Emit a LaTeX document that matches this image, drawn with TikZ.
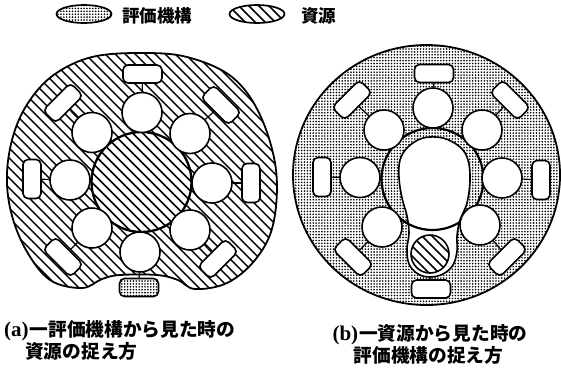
\documentclass[tikz,border=0pt]{standalone}
\usepackage{fontspec}
\setmainfont{Liberation Serif}
\newfontfamily\jpfont{Noto Sans CJK JP}
\usetikzlibrary{patterns.meta,shapes.geometric}
\newcommand{\jpc}{\jpfont\bfseries\fontsize{18.7}{20}\selectfont}
\newcommand{\latc}{\rmfamily\bfseries\fontsize{21}{20}\selectfont}
\tikzset{
  hatchfill/.style={path picture={
    \foreach \k in {-330,-320,...,330}
      \draw[line width=1.45pt] ([shift={(\k pt-330pt,330pt)}]path picture bounding box.center) -- ++(660pt,-660pt);
  }},
  dotfill/.style={pattern={Dots[distance=2.9pt,radius=0.9pt]}},
  outline/.style={draw, line width=1.8pt},
  small/.style={circle, draw, line width=1.6pt, fill=white, minimum size=40pt, inner sep=0pt},
  boxbase/.style={rectangle, rounded corners=5pt, draw, line width=1.6pt, minimum width=39pt, minimum height=18pt, inner sep=0pt},
  box/.style={boxbase, fill=white},
  link/.style={line width=1.2pt},
  legend/.style={ellipse, draw, line width=1.7pt, minimum width=55pt, minimum height=18pt, inner sep=0pt},
  txt/.style={inner sep=0pt}
}
\begin{document}
\begin{tikzpicture}[x=1pt,y=-1pt]
\useasboundingbox (0,0) rectangle (561,368);

% ---------- legend ----------
\node[legend, fill=white, dotfill] (legdot) at (84,14) {};
\node[txt, anchor=west] (legdottxt) at (122,16) {\jpfont\bfseries\fontsize{17.5}{18}\selectfont 評価機構};
\node[legend, fill=white, hatchfill] (leghatch) at (257,14) {};
\node[txt, anchor=west] (leghatchtxt) at (301,16) {\jpfont\bfseries\fontsize{17.5}{18}\selectfont 資源};

% ---------- (a) ----------
\path[fill=white, hatchfill, outline] plot[smooth cycle, tension=0.6] coordinates {
 (140,53) (187,57) (232,77) (260,115) (276,170) (273,225) (255,260) (227,283)
 (195,289) (178,280) (157,275) (120,275) (102,279) (82,288) (50,280) (26,250)
 (11,212) (7,173) (14,133) (30,100) (55,74) (92,57)};

\node[circle, draw, line width=2.3pt, minimum size=100pt, inner sep=0pt, fill=white, hatchfill] (ca) at (141.5,182) {};

\node[small] (aT)  at (142,112.5) {};
\node[small] (aUL) at (92,132.5) {};
\node[small] (aUR) at (190,133.5) {};
\node[small] (aL)  at (70,180) {};
\node[small] (aR)  at (212,183) {};
\node[small] (aLL) at (92,228) {};
\node[small] (aLR) at (190,230) {};
\node[small] (aB)  at (140,252) {};

\node[box] (raT)  at (142.5,74) {};
\node[box, rotate=45]  (raUL) at (63,103) {};
\node[box, rotate=-45] (raUR) at (221,105) {};
\node[box, rotate=90]  (raL)  at (32,179) {};
\node[box, rotate=90]  (raR)  at (251,183) {};
\node[box, rotate=-45] (raLL) at (63,257) {};
\node[box, rotate=45]  (raLR) at (218,259) {};
\node[boxbase, fill=white, dotfill] (raB) at (139,287.5) {};

\foreach \c in {T,UL,UR,L,R,LL,LR,B}
  \draw[link] (a\c) -- (ra\c);

% ---------- (b) ----------
\path[fill=white, dotfill, outline] (426.5,175) ellipse [x radius=133.5pt, y radius=130pt];

\path[fill=white, draw, line width=1.6pt] plot[smooth cycle, tension=0.6] coordinates {
 (400,160) (408,147) (423,138) (443,138) (460,147) (468,160) (470,180) (467,203)
 (460,220) (457,236) (457,251) (453,265) (443,274) (430,277) (418,274) (409,264)
 (407,249) (409,233) (407,216) (402,198) (399,178)};

\node[circle, draw, line width=2.2pt, minimum size=102pt, inner sep=0pt] (cb) at (432.5,179) {};

\node[circle, draw, line width=1.6pt, minimum size=38pt, inner sep=0pt, fill=white, hatchfill] (bB) at (430,254) {};

\node[small] (bT)  at (433,108) {};
\node[small] (bUL) at (384,130) {};
\node[small] (bUR) at (482,130) {};
\node[small] (bL)  at (360,177.5) {};
\node[small] (bR)  at (502,178) {};
\node[small] (bLL) at (382,227) {};
\node[small] (bLR) at (480,225) {};

\node[box] (rbT)  at (434,73.5) {};
\node[box, rotate=45]  (rbUL) at (352,100) {};
\node[box, rotate=-45] (rbUR) at (510,100) {};
\node[box, rotate=90]  (rbL)  at (322,177) {};
\node[box, rotate=90]  (rbR)  at (541,180) {};
\node[box, rotate=-45] (rbLL) at (353,257) {};
\node[box, rotate=45]  (rbLR) at (507,257) {};
\node[box] (rbB) at (431,289) {};

\foreach \c in {T,UL,UR,L,R,LL,LR}
  \draw[link] (b\c) -- (rb\c);
\coordinate (bandbot) at (430,277);
\draw[link] (bandbot) -- (rbB);

% ---------- captions ----------
\node[txt, anchor=west] (capa1) at (4,331) {{\latc (a)}\hspace{1pt}{\jpc 一評価機構から見た時の}};
\node[txt, anchor=west] (capa2) at (25,351) {\jpc 資源の捉え方};
\node[txt] (capb1) at (430,335) {{\latc (b)}\hspace{1pt}{\jpc 一資源から見た時の}};
\node[txt] (capb2) at (428.5,355) {\jpc 評価機構の捉え方};
\end{tikzpicture}
\end{document}
